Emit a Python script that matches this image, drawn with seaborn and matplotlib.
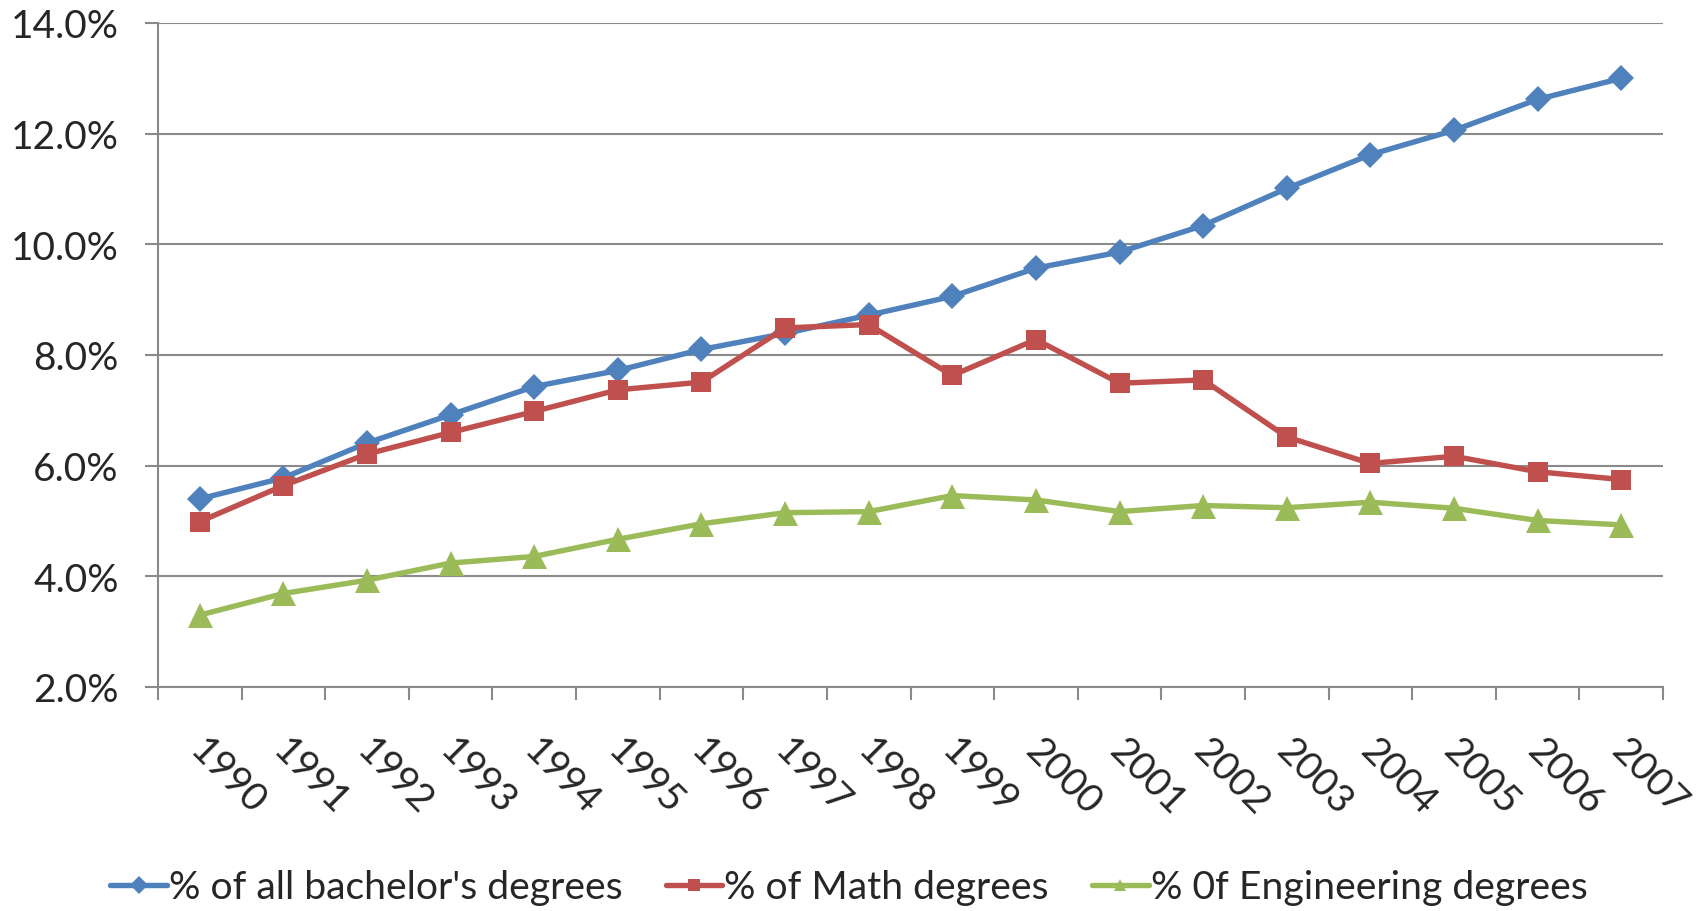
import numpy as np
import pandas as pd
import matplotlib
matplotlib.use('Agg')
import matplotlib.pyplot as plt
import matplotlib.transforms as mtransforms
import seaborn as sns
from matplotlib.ticker import FixedLocator, FuncFormatter

# data (percent of degrees)
years = list(range(1990, 2008))
all_bachelors = [5.40, 5.78, 6.41, 6.92, 7.43, 7.72, 8.10, 8.39, 8.72, 9.06,
                 9.57, 9.86, 10.34, 11.01, 11.62, 12.06, 12.62, 13.00]
math_degrees = [4.99, 5.64, 6.21, 6.60, 6.98, 7.37, 7.51, 8.49, 8.55, 7.63,
                8.28, 7.49, 7.55, 6.52, 6.04, 6.17, 5.89, 5.75]
eng_degrees = [3.30, 3.69, 3.93, 4.24, 4.36, 4.67, 4.95, 5.15, 5.17, 5.46,
               5.38, 5.17, 5.28, 5.24, 5.34, 5.23, 5.01, 4.93]
series_names = ["% of all bachelor's degrees", "% of Math degrees",
                "% 0f Engineering degrees"]
colors = ['#4F81BD', '#C0504D', '#9BBB59']
y_ticks = [2, 4, 6, 8, 10, 12, 14]

df = pd.DataFrame({'year': years,
                   series_names[0]: all_bachelors,
                   series_names[1]: math_degrees,
                   series_names[2]: eng_degrees})
long = df.melt(id_vars='year', var_name='series', value_name='pct')

sns.set_style('white')
plt.rcParams['font.family'] = ['Lato', 'DejaVu Sans']

fig = plt.figure(figsize=(17.08, 9.12), dpi=100)
ax = fig.add_axes([158 / 1708, 1 - 688 / 912, (1663 - 158) / 1708, (688 - 24) / 912])

sns.lineplot(data=long, x='year', y='pct', hue='series', style='series',
             hue_order=series_names, style_order=series_names,
             palette=colors, markers=['D', 's', '^'], dashes=False,
             linewidth=3.9, markersize=15, markeredgewidth=0, ax=ax)

# excel-ish marker sizes: diamond a bit smaller, triangle a bit bigger
for line, ms in zip(ax.lines[:3], [13, 15, 18]):
    line.set_markersize(ms)

handles, labels = ax.get_legend_handles_labels()
ax.get_legend().remove()

ax.set_xlim(years[0] - 0.5, years[-1] + 0.5)
ax.set_ylim(y_ticks[0], y_ticks[-1])
ax.set_xlabel('')
ax.set_ylabel('')

grid_col = '#8a8a8a'
ax.yaxis.set_major_locator(FixedLocator(y_ticks))
ax.yaxis.set_major_formatter(FuncFormatter(lambda v, p: f'{v:.1f}%'))
ax.grid(axis='y', color=grid_col, linewidth=1.5)
ax.grid(axis='x', visible=False)

ax.set_xticks(years)
ax.set_xticklabels([str(y) for y in years])
ax.set_xticks(np.arange(years[0] - 0.5, years[-1] + 1.0, 1.0), minor=True)

ax.tick_params(axis='y', which='major', length=9.4, width=1.5, color=grid_col,
               pad=19, labelsize=28, left=True)
ax.tick_params(axis='x', which='major', length=0, pad=32, labelsize=28)
ax.tick_params(axis='x', which='minor', length=9.4, width=1.5, color=grid_col,
               bottom=True)
shift = mtransforms.ScaledTranslation(8 / 100, 0, fig.dpi_scale_trans)
for lab in ax.get_xticklabels():
    lab.set_rotation(-45)
    lab.set_ha('left')
    lab.set_va('top')
    lab.set_rotation_mode('anchor')
    lab.set_transform(lab.get_transform() + shift)

for side in ['top', 'right']:
    ax.spines[side].set_visible(False)
for side in ['left', 'bottom']:
    ax.spines[side].set_color(grid_col)
    ax.spines[side].set_linewidth(1.5)

fig.legend(handles, labels, loc='center', bbox_to_anchor=(0.497, 0.026),
           ncol=3, frameon=False, fontsize=28.2, handlelength=1.45,
           handletextpad=0.05, columnspacing=1.1, markerscale=0.6)

fig.savefig('out.png', dpi=100)
